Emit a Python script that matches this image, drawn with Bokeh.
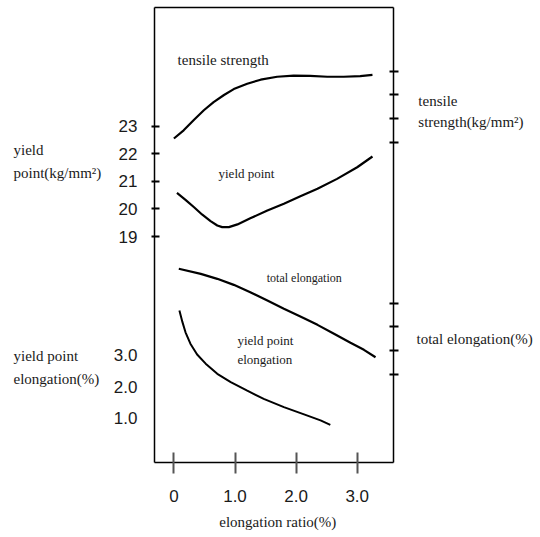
from bokeh.plotting import figure
from bokeh.models import Range1d, LinearAxis, FixedTicker, Label
from bokeh.embed import file_html
from bokeh.resources import INLINE

# ---------------- data ----------------
ratio_ticks = [0, 1, 2, 3]
ratio_tick_labels = ["0", "1.0", "2.0", "3.0"]
yp_ticks = [19, 20, 21, 22, 23]
yp_tick_labels = ["19", "20", "21", "22", "23"]
ype_ticks = [1, 2, 3]
ype_tick_labels = ["1.0", "2.0", "3.0"]
ts_ticks = [34, 36, 38, 40]
te_ticks = [30, 32, 34, 36]

# tensile strength (kg/mm2) vs elongation ratio (%)
ts_x = [0.0, 0.16, 0.33, 0.49, 0.65, 0.82, 0.98, 1.2, 1.42, 1.69, 1.96, 2.23, 2.51, 2.78, 3.05, 3.25]
ts_y = [34.3, 35.0, 35.9, 36.7, 37.4, 38.0, 38.5, 38.95, 39.3, 39.55, 39.65, 39.63, 39.55, 39.55, 39.6, 39.7]

# yield point (kg/mm2)
yp_x = [0.05, 0.19, 0.33, 0.46, 0.60, 0.71, 0.79, 0.90, 1.04, 1.25, 1.53, 1.80, 2.07, 2.35, 2.67, 3.00, 3.25]
yp_y = [20.58, 20.33, 20.06, 19.80, 19.56, 19.40, 19.34, 19.34, 19.44, 19.66, 19.94, 20.19, 20.46, 20.73, 21.09, 21.51, 21.90]

# total elongation (%)
te_x = [0.08, 0.44, 0.71, 0.98, 1.25, 1.53, 1.80, 2.07, 2.35, 2.62, 2.89, 3.11, 3.30]
te_y = [38.92, 38.49, 38.07, 37.56, 36.94, 36.24, 35.54, 34.89, 34.18, 33.42, 32.66, 32.07, 31.44]

# yield point elongation (%)
ype_x = [0.09, 0.14, 0.19, 0.27, 0.38, 0.52, 0.71, 0.93, 1.20, 1.47, 1.80, 2.13, 2.40, 2.56]
ype_y = [4.40, 4.03, 3.71, 3.35, 3.01, 2.72, 2.40, 2.14, 1.87, 1.61, 1.35, 1.12, 0.93, 0.79]

# ---------------- figure ----------------
# The plotting frame covers the whole canvas; the chart box is drawn by axes
# placed at fixed locations.
X0, X1 = -0.318, 3.594          # box left / right (elongation ratio)
YP_BOT, YP_TOP = 10.813, 27.299  # box bottom / top (yield point scale)
TS_BOT, TS_TOP = 6.775, 45.432   # box bottom / top (tensile strength scale)
SERIF = "Liberation Serif"
SANS = "Liberation Sans"
TXT = "#1a1a1a"

p = figure(width=540, height=537, output_backend="svg", toolbar_location=None,
           x_range=Range1d(-2.838, 6.0), y_range=Range1d(8.096, 27.552),
           x_axis_location=None, y_axis_location=None,
           min_border=0)
p.extra_y_ranges = {
    "ts": Range1d(0.403, 46.027),
    "te": Range1d(16.204, 61.597),
    "ype": Range1d(-2.763, 14.177),
}
p.xgrid.visible = False
p.ygrid.visible = False
p.outline_line_color = None
p.background_fill_color = "white"
p.border_fill_color = "white"


def make_axis(ticks, labels, tin, tout, standoff, **kw):
    ax = LinearAxis(ticker=FixedTicker(ticks=ticks), **kw)
    ax.major_label_overrides = {t: l for t, l in zip(ticks, labels)}
    ax.major_tick_in = tin
    ax.major_tick_out = tout
    ax.major_tick_line_width = 2
    ax.major_tick_line_color = "black"
    ax.minor_tick_line_color = None
    ax.axis_line_color = "black"
    ax.axis_line_width = 1.5
    ax.major_label_standoff = standoff
    ax.major_label_text_font = SANS
    ax.major_label_text_font_size = "17px"
    ax.major_label_text_color = TXT
    return ax


# bottom axis: elongation ratio
xa = make_axis(ratio_ticks, ratio_tick_labels, 10, 11, 16,
               fixed_location=YP_BOT, bounds=(X0, X1))
xa.major_tick_line_color = "#555555"
p.add_layout(xa, "below")

# top edge of the box
top = make_axis([], [], 0, 0, 0, fixed_location=YP_TOP, bounds=(X0, X1))
p.add_layout(top, "above")

# left axis: yield point
ya = make_axis(yp_ticks, yp_tick_labels, 5, 3, 14,
               fixed_location=X0, bounds=(YP_BOT, YP_TOP))
p.add_layout(ya, "left")

# left labels: yield point elongation (no ticks)
ype_axis = make_axis(ype_ticks, ype_tick_labels, 0, 0, 17,
                     y_range_name="ype", fixed_location=X0)
ype_axis.axis_line_color = None
ype_axis.major_tick_line_color = None
p.add_layout(ype_axis, "left")

# right edge with tensile strength ticks
ts_axis = make_axis(ts_ticks, [""] * len(ts_ticks), 4, 5, 2,
                    y_range_name="ts", fixed_location=X1, bounds=(TS_BOT, TS_TOP))
p.add_layout(ts_axis, "right")

# right ticks: total elongation
te_axis = make_axis(te_ticks, [""] * len(te_ticks), 4, 5, 2,
                    y_range_name="te", fixed_location=X1)
te_axis.axis_line_color = None
p.add_layout(te_axis, "right")

# curves
p.line(ts_x, ts_y, y_range_name="ts", line_color="black", line_width=2.2)
p.line(yp_x, yp_y, line_color="black", line_width=2.2)
p.line(te_x, te_y, y_range_name="te", line_color="black", line_width=2.2)
p.line(ype_x, ype_y, y_range_name="ype", line_color="black", line_width=2)


# texts
def add_label(x, y, text, size, rng="default", align="left", lh=1.2):
    p.add_layout(Label(x=x, y=y, y_range_name=rng, text=text, text_font=SERIF,
                       text_font_size=size, text_color=TXT, text_align=align,
                       text_baseline="middle", text_line_height=lh))


add_label(0.06, 41.0, "tensile strength", "15px", "ts")
add_label(0.73, 21.28, "yield point", "13px")
add_label(1.52, 38.18, "total elongation", "12px", "te")
add_label(1.04, 3.14, "yield point\nelongation", "13px", "ype", lh=1.25)
add_label(-2.625, 21.72, "yield\npoint(kg/mm²)", "15px", lh=1.4)
add_label(-2.625, 2.60, "yield point\nelongation(%)", "15px", "ype", lh=1.4)
add_label(4.00, 36.60, "tensile\nstrength(kg/mm²)", "15px", "ts", lh=1.35)
add_label(3.97, 33.0, "total elongation(%)", "15px", "te")
add_label(1.70, 8.64, "elongation ratio(%)", "15px", align="center")

open("out.html", "w").write(file_html(p, INLINE))
